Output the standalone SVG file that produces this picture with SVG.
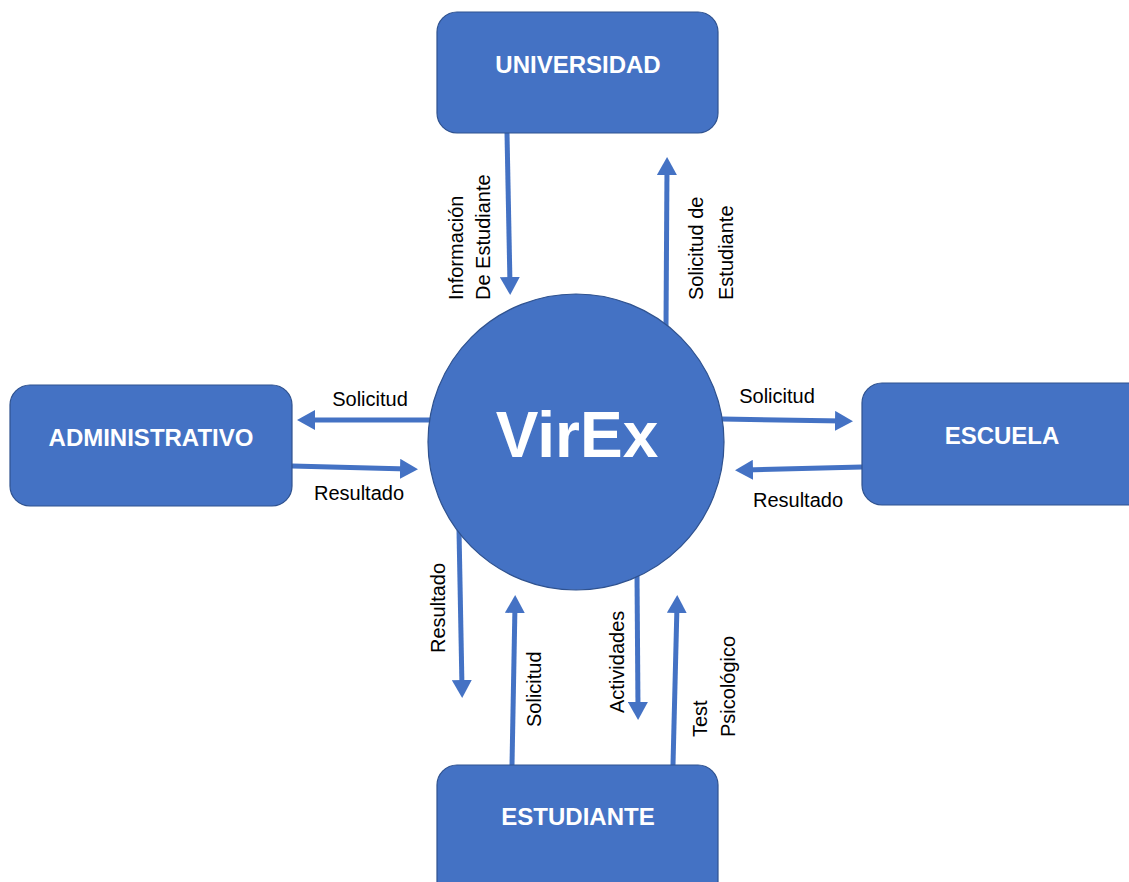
<svg xmlns="http://www.w3.org/2000/svg" width="1129" height="882" viewBox="0 0 1129 882">
<style>
.box{fill:#4472C4;stroke:#2F528F;stroke-width:1.2}
.nt{font-family:"Liberation Sans",Arial,sans-serif;font-weight:bold;font-size:24px;fill:#fff;text-anchor:middle}
.big{font-family:"Liberation Sans",Arial,sans-serif;font-weight:bold;font-size:64px;fill:#fff;text-anchor:middle}
.lb{font-family:"Liberation Sans",Arial,sans-serif;font-size:20px;fill:#000}
.c{text-anchor:middle}
.ar{stroke:#4472C4;stroke-width:5;fill:none;marker-end:url(#ah)}
</style>
<defs>
<marker id="ah" markerUnits="userSpaceOnUse" markerWidth="18" markerHeight="20" refX="8" refY="10" orient="auto" viewBox="0 0 18 20">
<path d="M0,0 L18,10 L0,20 z" fill="#4472C4"/>
</marker>
</defs>
<rect width="1129" height="882" fill="#fff"/>
<g id="connectors">
<line class="ar" x1="507" y1="133" x2="510" y2="285"/>
<line class="ar" x1="666" y1="326" x2="667" y2="167"/>
<line class="ar" x1="432" y1="420" x2="307" y2="420"/>
<line class="ar" x1="292" y1="466" x2="408" y2="469"/>
<line class="ar" x1="722" y1="419" x2="843" y2="421"/>
<line class="ar" x1="862" y1="467" x2="745" y2="470"/>
<line class="ar" x1="459" y1="530" x2="462" y2="688"/>
<line class="ar" x1="512" y1="765" x2="515" y2="605"/>
<line class="ar" x1="637" y1="575" x2="638" y2="710"/>
<line class="ar" x1="673" y1="765" x2="677" y2="605"/>
</g>
<g id="labels">
<text class="lb" transform="translate(463,300) rotate(-90)">Información</text>
<text class="lb" transform="translate(490,300) rotate(-90)">De Estudiante</text>
<text class="lb" transform="translate(703,300) rotate(-90)">Solicitud de</text>
<text class="lb" transform="translate(733,300) rotate(-90)">Estudiante</text>
<text class="lb c" x="370" y="406">Solicitud</text>
<text class="lb c" x="359" y="500">Resultado</text>
<text class="lb c" x="777" y="403">Solicitud</text>
<text class="lb c" x="798" y="507">Resultado</text>
<text class="lb" transform="translate(445,653) rotate(-90)">Resultado</text>
<text class="lb" transform="translate(541,727) rotate(-90)">Solicitud</text>
<text class="lb" transform="translate(624,713) rotate(-90)">Actividades</text>
<text class="lb" transform="translate(707,737) rotate(-90)">Test</text>
<text class="lb" transform="translate(735,737) rotate(-90)">Psicológico</text>
</g>
<g id="universidad">
<rect class="box" x="437" y="12" width="281" height="121" rx="20"/>
<text class="nt" x="578" y="73">UNIVERSIDAD</text>
</g>
<g id="administrativo">
<rect class="box" x="10" y="385" width="282" height="121" rx="20"/>
<text class="nt" x="151" y="446">ADMINISTRATIVO</text>
</g>
<g id="escuela">
<rect class="box" x="862" y="383" width="290" height="122" rx="20"/>
<text class="nt" x="1002" y="444">ESCUELA</text>
</g>
<g id="estudiante">
<rect class="box" x="437" y="765" width="281" height="140" rx="20"/>
<text class="nt" x="578" y="825">ESTUDIANTE</text>
</g>
<g id="virex">
<circle class="box" cx="576" cy="442" r="148"/>
<text class="big" x="577" y="457">VirEx</text>
</g>
</svg>
